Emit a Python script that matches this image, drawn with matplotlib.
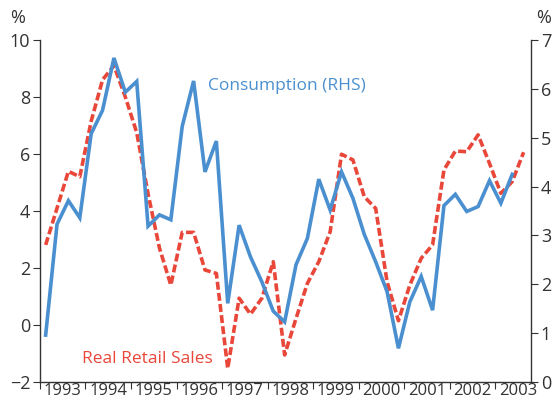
import numpy as np
import matplotlib
matplotlib.use("Agg")
import matplotlib.pyplot as plt

# quarterly data, starting 1993 Q1
retail_sales = [2.81, 4.1, 5.39, 5.2, 7.15, 8.6, 9.1, 8.0, 6.75, 4.6,
                2.7, 1.4, 3.25, 3.25, 1.93, 1.81, -1.52, 0.94, 0.38, 0.94,
                2.22, -1.05, 0.23, 1.46, 2.22, 3.27, 5.99, 5.79, 4.50, 4.09,
                1.52, 0.15, 1.40, 2.34, 2.81, 5.44, 6.1, 6.08, 6.67, 5.67,
                4.62, 5.03, 6.06]
consumption = [0.96, 3.23, 3.71, 3.36, 5.08, 5.56, 6.63, 5.93, 6.15, 3.19,
               3.42, 3.32, 5.23, 6.16, 4.30, 4.93, 1.61, 3.21, 2.56, 2.05,
               1.45, 1.23, 2.40, 2.94, 4.15, 3.52, 4.30, 3.76, 3.02, 2.46,
               1.85, 0.69, 1.64, 2.16, 1.47, 3.61, 3.84, 3.49, 3.59, 4.12,
               3.66, 4.25]
years = list(range(1993, 2004))
left_ticks = [-2, 0, 2, 4, 6, 8, 10]
right_ticks = [0, 1, 2, 3, 4, 5, 6, 7]

BLUE = "#4a8fcf"
RED = "#e8473a"
GREY = "#333333"

plt.rcParams["font.family"] = ["Open Sans", "DejaVu Sans"]

x_red = 1993 + 0.125 + 0.25 * np.arange(len(retail_sales))
x_blue = 1993 + 0.125 + 0.25 * np.arange(len(consumption))

fig = plt.figure(figsize=(5.55, 4.03), dpi=100)
ax = fig.add_axes([0.072, 0.052, 0.885, 0.849])
ax2 = ax.twinx()

ax.plot(x_red, retail_sales, color=RED, lw=2.6, dashes=(2.2, 0.9))
ax2.plot(x_blue, consumption, color=BLUE, lw=2.6, solid_joinstyle="miter")

ax.set_xlim(1993, 2003.79)
ax.set_ylim(-2, 10)
ax2.set_ylim(0, 7)
ax.set_yticks(left_ticks)
ax2.set_yticks(right_ticks)
ax.set_xticks(years)
ax.set_xticklabels([])
ax.set_xticks([y + 0.5 for y in years], minor=True)
ax.set_xticklabels([str(y) for y in years], minor=True)

for a in (ax, ax2):
    a.spines["top"].set_visible(False)
    for s in a.spines.values():
        s.set_color(GREY)
        s.set_linewidth(1.0)
ax.spines["right"].set_visible(False)
ax2.spines["left"].set_visible(False)
ax2.spines["bottom"].set_visible(False)

ax.tick_params(axis="y", direction="out", length=5, colors=GREY,
               labelsize=13, pad=2)
ax2.tick_params(axis="y", direction="out", length=5, colors=GREY,
                labelsize=13, pad=2)
ax.tick_params(axis="x", which="major", direction="out", length=5,
               colors=GREY)
ax.tick_params(axis="x", which="minor", length=0, labelsize=12,
               labelcolor=GREY, pad=1)

fig.text(0.032, 0.955, "%", fontsize=13, color=GREY, ha="center", va="center")
fig.text(0.980, 0.955, "%", fontsize=13, color=GREY, ha="center", va="center")

ax2.text(1998.43, 6.05, "Consumption (RHS)", color=BLUE, fontsize=12.5,
         ha="center", va="center")
ax.text(1995.35, -1.2, "Real Retail Sales", color=RED, fontsize=12.5,
        ha="center", va="center")

fig.savefig("out.png", dpi=100)
